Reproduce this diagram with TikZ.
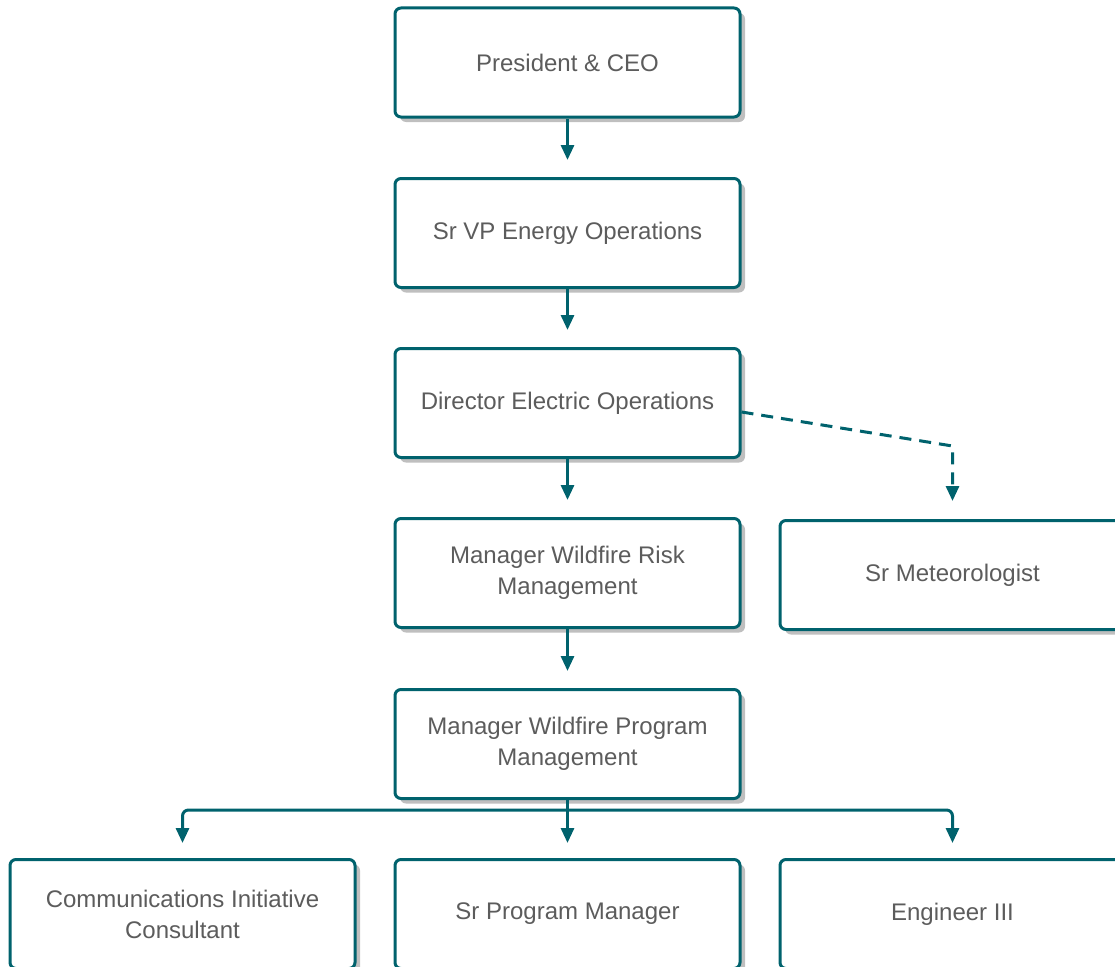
\documentclass[tikz,border=0pt]{standalone}
\usepackage{fontspec}
\setmainfont{Liberation Sans}
\usetikzlibrary{arrows.meta,shadows,positioning,calc}
\definecolor{teal}{HTML}{00626D}
\definecolor{textgray}{HTML}{5C5C5C}
\tikzset{role/.style={
            draw=teal,
            line width=3pt,
            rounded corners=6pt,
            fill=white,
            minimum width=345pt,
            minimum height=109pt,
            align=center,
            text=textgray,
            font=\fontsize{24}{31}\selectfont,
            drop shadow={shadow xshift=5pt, shadow yshift=-5pt, fill=black!25, opacity=1}
        },
        link/.style={
            draw=teal,
            line width=3pt,
            -{Triangle[length=15pt,width=13pt]}
        },
        dottedlink/.style={
            link,
            dash pattern=on 12pt off 8pt
        }
    }
\begin{document}
\begin{tikzpicture}[x=1pt,y=-1pt]
        \useasboundingbox (0,0) rectangle (1115,966);
        \clip (0,0) rectangle (1115,966);

        \node[role] (ceo) at (567.5,62.5) {President \& CEO};
        \node[role] (vp) at (567.5,233) {Sr VP Energy Operations};
        \node[role] (dir) at (567.5,403) {Director Electric Operations};
        \node[role] (risk) at (567.5,573) {Manager Wildfire Risk\\Management};
        \node[role] (met) at (952.5,575) {Sr Meteorologist};
        \node[role] (prog) at (567.5,744) {Manager Wildfire Program\\Management};
        \node[role] (comms) at (182.5,914) {Communications Initiative\\Consultant};
        \node[role] (srprog) at (567.5,914) {Sr Program Manager};
        \node[role] (eng) at (952.5,914) {Engineer III};

        \draw[link,shorten >=17pt] (ceo) -- (vp);
        \draw[link,shorten >=17pt] (vp) -- (dir);
        \draw[link,shorten >=17pt] (dir) -- (risk);
        \draw[link,shorten >=17pt] (risk) -- (prog);

        \coordinate (bend) at (952.5,446);
        \draw[dottedlink,shorten >=18pt] ([yshift=-9pt]dir.east) -- (bend) -- (met.north);

        \coordinate (fork) at (567.5,810);
        \draw[link,shorten >=15pt] (prog) -- (srprog);
        \draw[link,rounded corners=6pt,shorten >=15pt] (fork) -| (comms.north);
        \draw[link,rounded corners=6pt,shorten >=15pt] (fork) -| (eng.north);

    \end{tikzpicture}
\end{document}
